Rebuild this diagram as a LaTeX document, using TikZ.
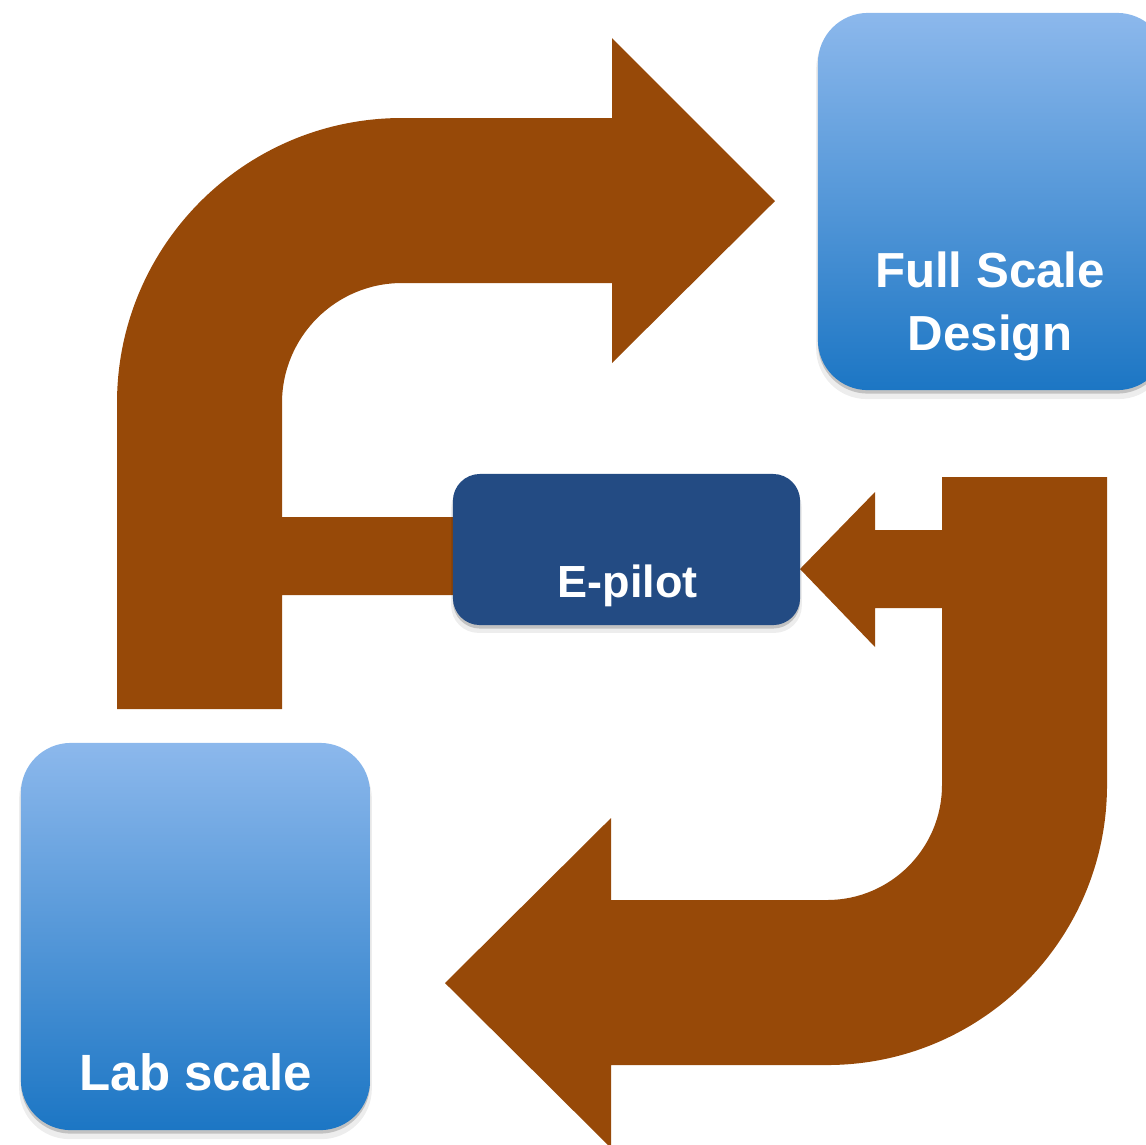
\documentclass[tikz,border=0pt]{standalone}
\usepackage{fontspec}
\setmainfont{Liberation Sans}
\usetikzlibrary{shadows,backgrounds}

\definecolor{arrowbrown}{RGB}{151,73,8}
\definecolor{boxtop}{RGB}{140,184,236}
\definecolor{boxbottom}{RGB}{28,118,196}
\definecolor{pilotblue}{RGB}{35,75,131}

\begin{document}
\begin{tikzpicture}[x=0.01cm, y=-0.01cm,
  softshadow/.style={
    general shadow={fill=black, opacity=0.07, shadow yshift=-0.07cm, shadow scale=1.01},
    general shadow={fill=black, opacity=0.18, shadow yshift=-0.035cm}},
  stagebox/.style={rounded corners=0.5cm, top color=boxtop, bottom color=boxbottom,
    draw=none, inner sep=0pt, minimum width=3.49cm, softshadow},
  pilotbox/.style={rounded corners=0.27cm, fill=pilotblue, draw=none, inner sep=0pt,
    minimum width=3.47cm, minimum height=1.51cm, softshadow},
  boxlabel/.style={text=white, inner sep=0pt, anchor=base},
  bigarrow/.style={fill=arrowbrown}]

\useasboundingbox (0,0) rectangle (1146,1144);

% stage boxes
\node[stagebox, minimum height=3.77cm] (full) at (992.5,201.5) {};
\node[stagebox, minimum height=3.87cm] (lab) at (195.5,936.5) {};
\node[pilotbox] (pilot) at (626.5,549.5) {};

% box captions
\node[boxlabel, font=\bfseries\fontsize{14pt}{17pt}\selectfont] (fulltop) at (990,287) {Full Scale};
\node[boxlabel, font=\bfseries\fontsize{14pt}{17pt}\selectfont] (fullbot) at (990,350) {Design};
\node[boxlabel, font=\bfseries\fontsize{14.5pt}{17pt}\selectfont] (labtext) at (196,1090) {Lab scale};
\node[boxlabel, font=\bfseries\fontsize{12.8pt}{15pt}\selectfont] (pilottext) at (627.5,597) {E-pilot};

\begin{scope}[on background layer]
% bent arrow from lab scale up to full scale, with a branch into E-pilot
\fill[bigarrow] (117,709) -- (117,403)
  .. controls (117,245.6) and (244.6,118) .. (402,118)
  -- (612,118) -- (612,38) -- (775,201) -- (612,363) -- (612,283) -- (402,283)
  .. controls (335.7,283) and (282,336.7) .. (282,403)
  -- (282,517) -- (465,517) -- (465,595) -- (282,595) -- (282,709) -- cycle;

% bent arrow from full scale back down to lab scale, with a head into E-pilot
\fill[bigarrow] (942,477) -- (1107,477) -- (1107,785)
  .. controls (1107,939.6) and (981.6,1065) .. (827,1065)
  -- (611,1065) -- (611,1148) -- (445,983) -- (611,818) -- (611,900) -- (827,900)
  .. controls (890.5,900) and (942,848.5) .. (942,785)
  -- (942,608) -- (875,608) -- (875,647) -- (800,569) -- (875,492) -- (875,530)
  -- (942,530) -- cycle;
\end{scope}
\end{tikzpicture}
\end{document}
